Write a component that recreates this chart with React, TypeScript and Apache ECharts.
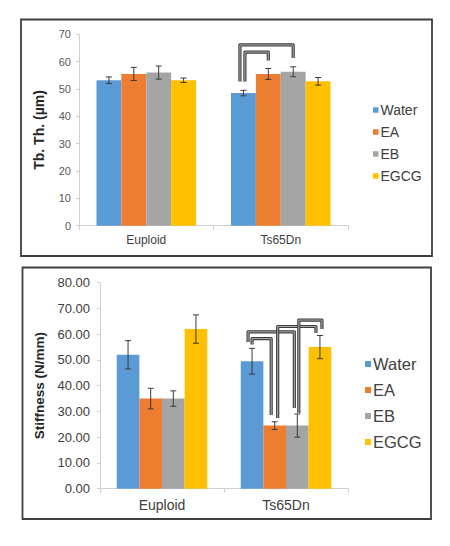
import React, { useEffect, useRef } from "react";
import * as echarts from "echarts";

const categories = ["Euploid", "Ts65Dn"];
const treatments = ["Water", "EA", "EB", "EGCG"];
const colors = ["#5B9BD5", "#ED7D31", "#A5A5A5", "#FFC000"];

// Top panel: Tb.Th. (µm)
const thValues = [
  [53.2, 48.5], // Water
  [55.5, 55.5], // EA
  [56.0, 56.3], // EB
  [53.2, 52.8], // EGCG
];
const thErrors = [
  [1.2, 1.0],
  [2.4, 2.0],
  [2.4, 1.8],
  [0.8, 1.4],
];
const thTicks = [0, 10, 20, 30, 40, 50, 60, 70];

// Bottom panel: Stiffness (N/mm)
const stValues = [
  [52.0, 49.5],
  [35.0, 24.5],
  [35.0, 24.5],
  [62.0, 55.0],
];
const stErrors = [
  [5.5, 5.0],
  [4.0, 1.5],
  [3.0, 4.5],
  [5.5, 4.5],
];
const stTicks = [0, 10, 20, 30, 40, 50, 60, 70, 80];

// Significance brackets: [category, fromBar, toBar, topValue, fromEndValue, toEndValue]
const thBrackets = [
  [1, 0, 2, 66.1, 52.7, 61.3],
  [1, 0, 1, 63.5, 52.7, 60.4],
];
const stBrackets = [
  [1, 0, 2, 60.9, 57.0, 31.3],
  [1, 0, 1, 58.3, 56.0, 28.6],
  [1, 1, 3, 63.0, 27.5, 60.5],
  [1, 2, 3, 65.5, 29.4, 62.0],
];
// pixel nudges of the vertical legs so parallel legs don't overlap
const thBracketNudge = [
  [-3.5, 0],
  [1.5, 0],
];
const stBracketNudge = [
  [-4, -3],
  [0, -3.5],
  [3, -4],
  [1.5, 2],
];

const TH_GAP = 0.26;
const ST_GAP = 0.27;

function barCenter(api: any, cat: number, bar: number, gap: number) {
  const c = api.coord([cat, 0])[0];
  const band = api.size([1, 0])[0];
  const total = band * (1 - gap);
  const w = total / 4;
  return c - total / 2 + w * (bar + 0.5);
}

function errorSeries(values: number[][], errors: number[][], gap: number, axisIdx: number) {
  const data: number[][] = [];
  values.forEach((row, s) =>
    row.forEach((v, c) => {
      data.push([c, v - errors[s][c], v + errors[s][c], s]);
    })
  );
  return {
    type: "custom",
    xAxisIndex: axisIdx,
    yAxisIndex: axisIdx,
    silent: true,
    z: 5,
    data,
    encode: { x: 0, y: [1, 2] },
    renderItem: (_p: any, api: any) => {
      const cat = api.value(0);
      const lo = api.value(1);
      const hi = api.value(2);
      const s = api.value(3);
      const x = barCenter(api, cat, s, gap);
      const yLo = api.coord([cat, lo])[1];
      const yHi = api.coord([cat, hi])[1];
      const cap = 3;
      const style = { stroke: "#3a3a3a", lineWidth: 1 };
      return {
        type: "group",
        children: [
          { type: "line", shape: { x1: x, y1: yLo, x2: x, y2: yHi }, style },
          { type: "line", shape: { x1: x - cap, y1: yLo, x2: x + cap, y2: yLo }, style },
          { type: "line", shape: { x1: x - cap, y1: yHi, x2: x + cap, y2: yHi }, style },
        ],
      };
    },
  };
}

function bracketSeries(brackets: number[][], nudges: number[][], gap: number, axisIdx: number) {
  return {
    type: "custom",
    xAxisIndex: axisIdx,
    yAxisIndex: axisIdx,
    silent: true,
    z: 6,
    data: brackets.map((b, i) => [...b, i]),
    encode: { x: 0, y: [3, 4, 5] },
    renderItem: (_p: any, api: any) => {
      const cat = api.value(0);
      const from = api.value(1);
      const to = api.value(2);
      const idx = api.value(6);
      const xa = barCenter(api, cat, from, gap) + nudges[idx][0];
      const xb = barCenter(api, cat, to, gap) + nudges[idx][1];
      const yTop = api.coord([cat, api.value(3)])[1];
      const yA = api.coord([cat, api.value(4)])[1];
      const yB = api.coord([cat, api.value(5)])[1];
      const pts = [
        [xa, yA],
        [xa, yTop],
        [xb, yTop],
        [xb, yB],
      ];
      return {
        type: "group",
        children: [
          { type: "polyline", shape: { points: pts }, style: { stroke: "#3c3c3c", lineWidth: 3.2, fill: null, lineJoin: "round" } },
          { type: "polyline", shape: { points: pts }, style: { stroke: "#bdbdbd", lineWidth: 0.9, fill: null, lineJoin: "round" } },
        ],
      };
    },
  };
}

export default function App() {
  const ref = useRef<HTMLDivElement>(null);
  useEffect(() => {
    document.body.style.margin = "0";
    const chart = echarts.init(ref.current!, null, { renderer: "svg" });
    const font = "Liberation Sans, Arial, sans-serif";

    const barSeries: any[] = [];
    treatments.forEach((t, i) => {
      barSeries.push({
        name: t,
        type: "bar",
        xAxisIndex: 0,
        yAxisIndex: 0,
        data: thValues[i],
        itemStyle: { color: colors[i] },
        barGap: "0%",
        barCategoryGap: TH_GAP * 100 + "%",
      });
    });
    treatments.forEach((t, i) => {
      barSeries.push({
        name: t,
        type: "bar",
        xAxisIndex: 1,
        yAxisIndex: 1,
        data: stValues[i],
        itemStyle: { color: colors[i] },
        barGap: "0%",
        barCategoryGap: ST_GAP * 100 + "%",
      });
    });

    const axisLine = { show: true, lineStyle: { color: "#d0d0d0", width: 1 } };

    chart.setOption({
      animation: false,
      textStyle: { fontFamily: font },
      graphic: [
        { type: "rect", shape: { x: 21, y: 19.5, width: 411, height: 236.5 }, style: { fill: "none", stroke: "#3f3f3f", lineWidth: 1.8 } },
        { type: "rect", shape: { x: 22.5, y: 267.5, width: 408.5, height: 251.5 }, style: { fill: "none", stroke: "#3f3f3f", lineWidth: 1.8 } },
      ],
      grid: [
        { left: 79, right: 102, top: 34.3, height: 191.4 },
        { left: 100, right: 102, top: 282.7, height: 206 },
      ],
      legend: [
        {
          data: treatments,
          orient: "vertical",
          left: 368,
          top: 97,
          icon: "rect",
          itemWidth: 5.5,
          itemHeight: 5.5,
          itemGap: 6,
          selectedMode: false,
          textStyle: { fontSize: 14, lineHeight: 16, color: "#404040", fontFamily: font, padding: [0, 0, 0, -3] },
        },
        {
          data: treatments,
          orient: "vertical",
          left: 360,
          top: 350,
          icon: "rect",
          itemWidth: 6,
          itemHeight: 6,
          itemGap: 8,
          selectedMode: false,
          textStyle: { fontSize: 16.5, lineHeight: 18, color: "#404040", fontFamily: font, padding: [0, 0, 0, -3] },
        },
      ],
      xAxis: [
        {
          type: "category",
          gridIndex: 0,
          data: categories,
          axisLine,
          axisTick: { show: true, length: 4, lineStyle: { color: "#d0d0d0" } },
          axisLabel: { fontSize: 12, color: "#404040", margin: 8, fontFamily: font },
        },
        {
          type: "category",
          gridIndex: 1,
          data: categories,
          axisLine,
          axisTick: { show: true, length: 4, lineStyle: { color: "#d0d0d0" } },
          axisLabel: { fontSize: 14, color: "#404040", margin: 9, fontFamily: font },
        },
      ],
      yAxis: [
        {
          type: "value",
          gridIndex: 0,
          min: thTicks[0],
          max: thTicks[thTicks.length - 1],
          interval: 10,
          axisLine,
          axisTick: { show: true, length: 3, lineStyle: { color: "#d0d0d0" } },
          splitLine: { show: false },
          axisLabel: { fontSize: 11, color: "#595959", margin: 8, fontFamily: font },
          name: "Tb. Th. (µm)",
          nameLocation: "middle",
          nameGap: 33,
          nameTextStyle: { fontSize: 14, fontWeight: "bold", color: "#262626", fontFamily: font },
        },
        {
          type: "value",
          gridIndex: 1,
          min: stTicks[0],
          max: stTicks[stTicks.length - 1],
          interval: 10,
          axisLine,
          axisTick: { show: true, length: 3, lineStyle: { color: "#d0d0d0" } },
          splitLine: { show: false },
          axisLabel: {
            fontSize: 13,
            color: "#404040",
            margin: 10,
            fontFamily: font,
            formatter: (v: number) => v.toFixed(2),
          },
          name: "Stiffness (N/mm)",
          nameLocation: "middle",
          nameGap: 47,
          nameTextStyle: { fontSize: 13.5, fontWeight: "bold", color: "#262626", fontFamily: font },
        },
      ],
      series: [
        ...barSeries,
        errorSeries(thValues, thErrors, TH_GAP, 0),
        errorSeries(stValues, stErrors, ST_GAP, 1),
        bracketSeries(thBrackets, thBracketNudge, TH_GAP, 0),
        bracketSeries(stBrackets, stBracketNudge, ST_GAP, 1),
      ],
    });
    return () => chart.dispose();
  }, []);
  return <div ref={ref} style={{ width: 450, height: 546 }} />;
}
